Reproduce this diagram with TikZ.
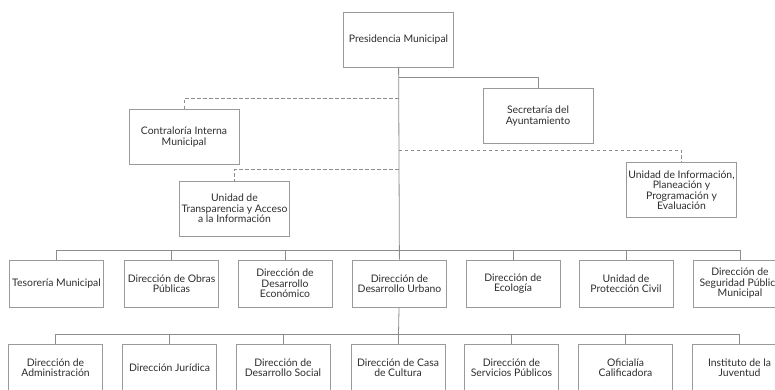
\documentclass[tikz,border=0pt]{standalone}
\usepackage{fontspec}
\setmainfont{Lato}
\definecolor{caja}{HTML}{9A9A9A}
\definecolor{linea}{HTML}{8C8C8C}
\definecolor{texto}{HTML}{2E2E2E}
\begin{document}
\begin{tikzpicture}[x=1pt, y=-1pt,
  font=\fontsize{10.4}{10.5}\selectfont, text=texto,
  unidad/.style={draw=caja, line width=0.8pt, fill=white, align=center, inner sep=1pt, minimum width=94pt, minimum height=47pt},
  mando/.style={unidad, minimum width=110pt, minimum height=55pt},
  enlace/.style={draw=linea, line width=0.8pt},
  apoyo/.style={enlace, dash pattern=on 3.5pt off 2.5pt}]
  \useasboundingbox (0,0) rectangle (775,389);
  \clip (0,0) rectangle (775,389);
  % top level
  \node[mando] (pres) at (398.5,39.5) {Presidencia Municipal};
  \node[mando] (secre) at (538,116) {Secretaría del\\Ayuntamiento};
  \node[mando] (contra) at (184,137) {Contraloría Interna\\Municipal};
  \node[mando] (transp) at (234.5,208.5) {Unidad de\\Transparencia y Acceso\\a la Información};
  \node[mando] (info) at (681.5,190) {Unidad de Información,\\Planeación y\\Programación y\\Evaluación};
  % first row
  \node[unidad] (teso) at (56.5,283.5) {Tesorería Municipal};
  \node[unidad] (obras) at (171.5,283.5) {Dirección de Obras\\Públicas};
  \node[unidad] (econ) at (285,283.5) {Dirección de\\Desarrollo\\Económico};
  \node[unidad] (urbano) at (399.5,283.5) {Dirección de\\Desarrollo Urbano};
  \node[unidad] (ecol) at (513,283.5) {Dirección de\\Ecología};
  \node[unidad] (civil) at (626,283.5) {Unidad de\\Protección Civil};
  \node[unidad] (segur) at (740,283.5) {Dirección de\\Seguridad Pública\\Municipal};
  % second row
  \node[unidad] (admin) at (55.5,367.5) {Dirección de\\Administración};
  \node[unidad] (juri) at (169.5,367.5) {Dirección Jurídica};
  \node[unidad] (social) at (283,367.5) {Dirección de\\Desarrollo Social};
  \node[unidad] (cultura) at (398,367.5) {Dirección de Casa\\de Cultura};
  \node[unidad] (servi) at (511.5,367.5) {Dirección de\\Servicios Públicos};
  \node[unidad] (ofici) at (625.5,367.5) {Oficialía\\Calificadora};
  \node[unidad] (juven) at (739.5,367.5) {Instituto de la\\Juventud};
  % junctions on the trunk
  \coordinate (jsecre) at (398.5,77);
  \coordinate (jcontra) at (398.5,98);
  \coordinate (jinfo) at (398.5,150);
  \coordinate (jtransp) at (398.5,169);
  \coordinate (bus1) at (398.5,250);
  \coordinate (bus2) at (398.5,334);
  % trunk
  \draw[enlace] (pres) -- (urbano);
  \draw[enlace] (urbano) -- (bus2);
  \draw[enlace] (jsecre) -| (secre);
  \draw[apoyo] (jcontra) -| (contra);
  \draw[apoyo] (jinfo) -| (info);
  \draw[apoyo] (jtransp) -| (transp);
  % buses
  \foreach \n in {teso,obras,econ,ecol,civil,segur}
    \draw[enlace] (bus1) -| (\n);
  \foreach \n in {admin,juri,social,cultura,servi,ofici,juven}
    \draw[enlace] (bus2) -| (\n);
\end{tikzpicture}
\end{document}
